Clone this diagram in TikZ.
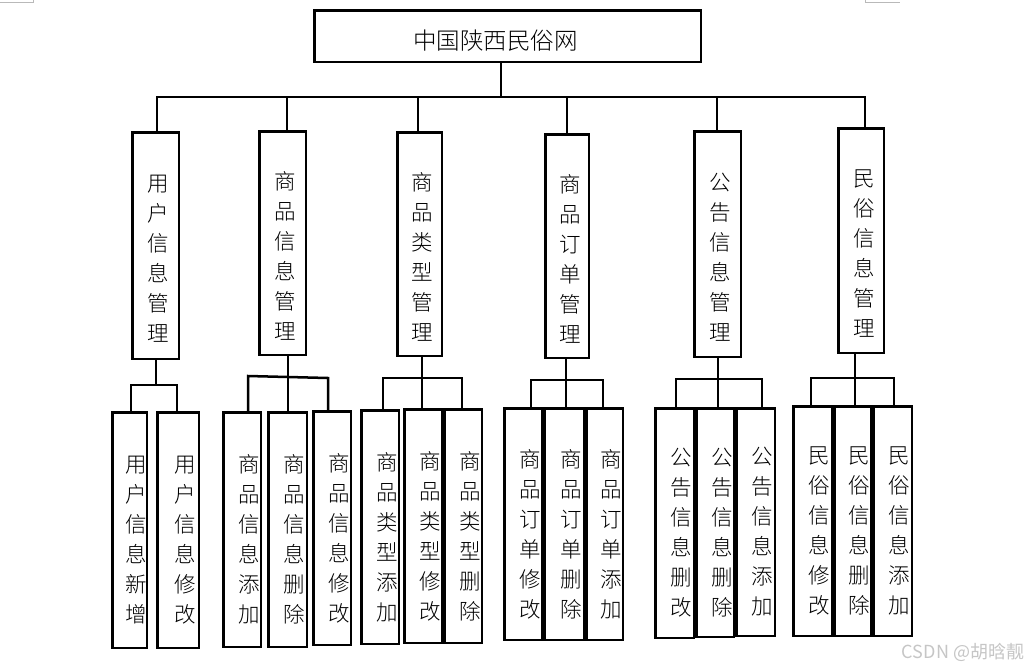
\documentclass[tikz,border=0pt]{standalone}
\usepackage{fontspec}
\setmainfont{Noto Sans CJK SC}[UprightFont=* Light]
\newfontfamily\wmfont{Noto Sans CJK SC}
\usetikzlibrary{calc}
\tikzset{
  bx/.style={draw, line width=2.5pt, inner sep=0pt, rectangle},
  conn/.style={line width=2.5pt, line cap=rect, line join=miter},
  vt/.style={align=center, font=\fontsize{21.5}{30}\selectfont, inner sep=0pt},
  cornermark/.style={draw=gray!55, line width=0.8pt},
}
% name, x1, x2, y1, y2, dx, dy, text
\newcommand\mybox[8]{%
  \node[bx, minimum width={#3pt-#2pt-2.5pt}, minimum height={#5pt-#4pt-2.5pt}] (#1) at ({(#2+#3)/2},{(#4+#5)/2}) {};
  \node[vt] (#1t) at ($(#1.center)+(#6,#7)$) {#8};
}
\begin{document}
\begin{tikzpicture}[x=1pt,y=-1pt]
\useasboundingbox[fill=white] (0,0) rectangle (1029,670);
% page corner marks
\draw[cornermark] (0,2) -- (33,2) -- (33,0);
\draw[cornermark] (865,0) -- (865,2) -- (900,2);
% title
\node[bx, minimum width={702pt-313pt-2.5pt}, minimum height={63pt-9pt-2.5pt}] (top) at (507.5,36) {};
\node[inner sep=0pt, font=\fontsize{23.5}{26}\selectfont] (topt) at ($(top.center)+(-12,5)$) {中国陕西民俗网};
% level 2
\mybox{m1}{131}{180}{131}{360}{3}{13}{用\\户\\信\\息\\管\\理}
\mybox{m2}{258}{307}{130}{356}{3}{13}{商\\品\\信\\息\\管\\理}
\mybox{m3}{396}{443}{131}{357}{3}{13}{商\\品\\类\\型\\管\\理}
\mybox{m4}{544}{590}{133}{359}{3}{13}{商\\品\\订\\单\\管\\理}
\mybox{m5}{693}{742}{130}{358}{3}{13}{公\\告\\信\\息\\管\\理}
\mybox{m6}{837}{885}{127}{354}{3}{13}{民\\俗\\信\\息\\管\\理}
% level 3
\mybox{l11}{111}{148}{411}{649}{7}{10}{用\\户\\信\\息\\新\\增}
\mybox{l12}{156}{200}{411}{649}{7}{10}{用\\户\\信\\息\\修\\改}
\mybox{l21}{222}{262}{411}{648}{7}{10}{商\\品\\信\\息\\添\\加}
\mybox{l22}{267}{308}{411}{648}{7}{10}{商\\品\\信\\息\\删\\除}
\mybox{l23}{312}{352}{410}{646}{7}{10}{商\\品\\信\\息\\修\\改}
\mybox{l31}{360}{400}{409}{645}{7}{10}{商\\品\\类\\型\\添\\加}
\mybox{l32}{403}{443}{408}{644}{7}{10}{商\\品\\类\\型\\修\\改}
\mybox{l33}{443}{483}{408}{644}{7}{10}{商\\品\\类\\型\\删\\除}
\mybox{l41}{503}{543}{407}{641}{7}{10}{商\\品\\订\\单\\修\\改}
\mybox{l42}{543}{585}{407}{641}{7}{10}{商\\品\\订\\单\\删\\除}
\mybox{l43}{585}{624}{407}{641}{7}{10}{商\\品\\订\\单\\添\\加}
\mybox{l51}{654}{695}{407}{639}{7}{10}{公\\告\\信\\息\\删\\改}
\mybox{l52}{695}{735}{407}{638}{7}{10}{公\\告\\信\\息\\删\\除}
\mybox{l53}{735}{776}{407}{637}{7}{10}{公\\告\\信\\息\\添\\加}
\mybox{l61}{792}{833}{405}{637}{7}{10}{民\\俗\\信\\息\\修\\改}
\mybox{l62}{833}{872}{405}{637}{7}{10}{民\\俗\\信\\息\\删\\除}
\mybox{l63}{872}{913}{405}{637}{7}{10}{民\\俗\\信\\息\\添\\加}
% top connectors
\coordinate (tdrop) at (501,97);
\coordinate (d1) at (157,97);
\coordinate (d2) at (287,97);
\coordinate (d3) at (418,97);
\coordinate (d4) at (567,97);
\coordinate (d5) at (717,97);
\coordinate (d6) at (865,97);
\draw[conn] (tdrop |- top.south) -- (tdrop);
\draw[conn] (d1 |- m1.north) -- (d1) -- (d6) -- (d6 |- m6.north);
\foreach \i in {2,3,4,5} \draw[conn] (d\i) -- (d\i |- m\i.north);
% group 1
\coordinate (g1) at (156,385); \coordinate (g1a) at (131,385); \coordinate (g1b) at (177,385);
\draw[conn] (g1 |- m1.south) -- (g1);
\draw[conn] (g1a |- l11.north) -- (g1a) -- (g1b) -- (g1b |- l12.north);
% group 2
\coordinate (g2) at (288,377); \coordinate (g2a) at (248,376); \coordinate (g2b) at (328,378);
\draw[conn] (g2 |- m2.south) -- (g2 |- l22.north);
\draw[conn] (g2a |- l21.north) -- (g2a) -- (g2b) -- (g2b |- l23.north);
% group 3
\coordinate (g3) at (422,378); \coordinate (g3a) at (383,378); \coordinate (g3b) at (462,378);
\draw[conn] (g3 |- m3.south) -- (g3 |- l32.north);
\draw[conn] (g3a |- l31.north) -- (g3a) -- (g3b) -- (g3b |- l33.north);
% group 4
\coordinate (g4) at (566,380); \coordinate (g4a) at (531,380); \coordinate (g4b) at (603,380);
\draw[conn] (g4 |- m4.south) -- (g4 |- l42.north);
\draw[conn] (g4a |- l41.north) -- (g4a) -- (g4b) -- (g4b |- l43.north);
% group 5
\coordinate (g5) at (718,379); \coordinate (g5a) at (676,379); \coordinate (g5b) at (762,379);
\draw[conn] (g5 |- m5.south) -- (g5 |- l52.north);
\draw[conn] (g5a |- l51.north) -- (g5a) -- (g5b) -- (g5b |- l53.north);
% group 6
\coordinate (g6) at (855,378); \coordinate (g6a) at (811,378); \coordinate (g6b) at (894,378);
\draw[conn] (g6 |- m6.south) -- (g6 |- l62.north);
\draw[conn] (g6a |- l61.north) -- (g6a) -- (g6b) -- (g6b |- l63.north);
% watermark
\node[inner sep=0pt, text=gray!45, font=\wmfont\fontsize{18}{20}\selectfont] (wm) at (963,652) {CSDN @胡晗靓};
\end{tikzpicture}
\end{document}
